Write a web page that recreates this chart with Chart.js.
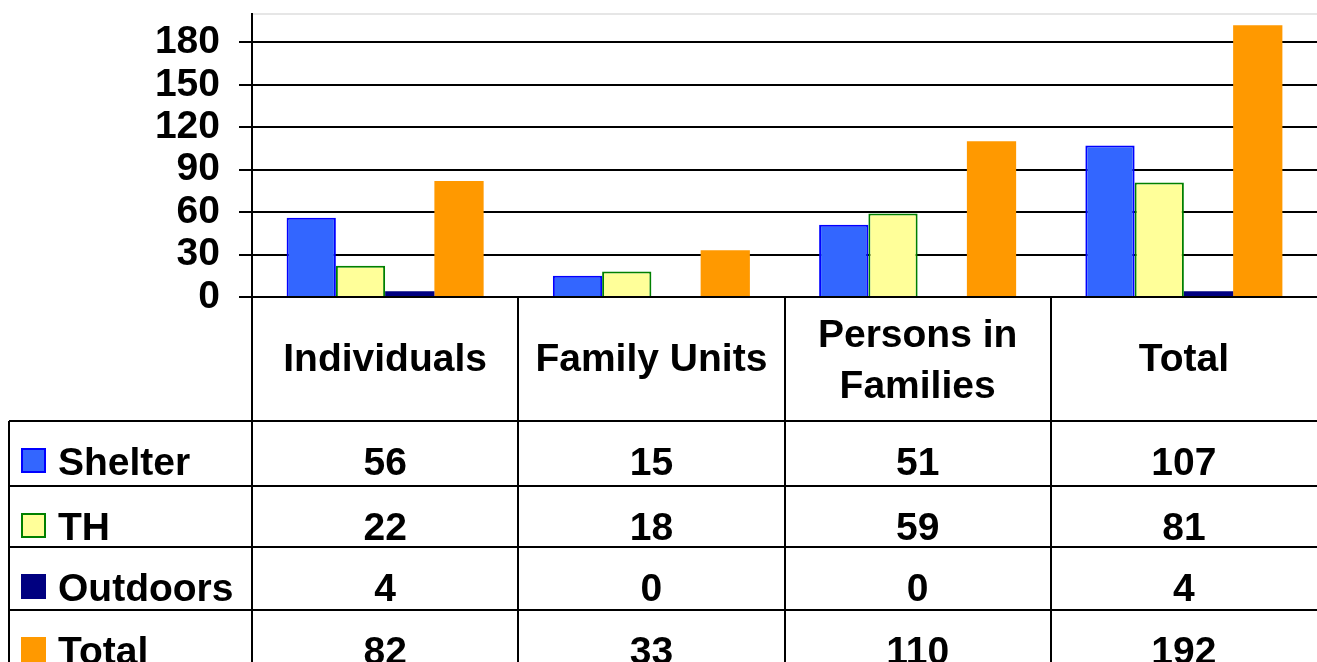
<!DOCTYPE html>
<html>
<head>
<meta charset="utf-8">
<script src="https://cdn.jsdelivr.net/npm/chart.js@4/dist/chart.umd.min.js"></script>
<style>
  body { margin: 0; background: #fff; }
  canvas { display: block; }
</style>
</head>
<body>
<canvas id="myChart" width="1317" height="662"></canvas>
<script>
// data
let categories = ['Individuals', 'Family Units', ['Persons in', 'Families'], 'Total']
let shelter = [56, 15, 51, 107]
let th = [22, 18, 59, 81]
let outdoors = [4, 0, 0, 4]
let total = [82, 33, 110, 192]
let yTicks = [0, 30, 60, 90, 120, 150, 180]
let seriesNames = ['Shelter', 'TH', 'Outdoors', 'Total']

let font = 'bold 39px "Liberation Sans", Arial, sans-serif'

// table under the plot
let tablePlugin = {
  id: 'table',
  afterDraw: function (chart) {
    let ctx = chart.ctx
    let area = chart.chartArea
    let x = chart.scales.x
    let w = chart.width
    let rowTops = [421, 486, 547, 610]
    let tableLeft = 9
    let step = x.getPixelForValue(1) - x.getPixelForValue(0)

    ctx.save()
    // light frame line on top of plot
    ctx.strokeStyle = '#e6e6e6'
    ctx.lineWidth = 2
    ctx.beginPath()
    ctx.moveTo(area.left + 1, area.top)
    ctx.lineTo(area.right, area.top)
    ctx.stroke()

    ctx.strokeStyle = '#000'
    ctx.lineWidth = 2
    ctx.beginPath()
    rowTops.forEach(y => {
      ctx.moveTo(tableLeft, y)
      ctx.lineTo(w, y)
    })
    ctx.moveTo(tableLeft, rowTops[0])
    ctx.lineTo(tableLeft, chart.height)
    for (let i = 0; i < categories.length; i++) {
      let px = Math.round(x.getPixelForValue(0) - step / 2 + i * step)
      ctx.moveTo(px, area.bottom)
      ctx.lineTo(px, chart.height)
    }
    ctx.stroke()

    ctx.fillStyle = '#000'
    ctx.font = font
    ctx.textAlign = 'center'
    ctx.textBaseline = 'alphabetic'
    categories.forEach((c, i) => {
      let cx = x.getPixelForValue(i)
      if (Array.isArray(c)) {
        ctx.fillText(c[0], cx, 347)
        ctx.fillText(c[1], cx, 398)
      } else {
        ctx.fillText(c, cx, 371)
      }
    })

    chart.data.datasets.forEach((ds, r) => {
      let base = rowTops[r] + 54
      // legend key
      ctx.fillStyle = ds.backgroundColor
      ctx.fillRect(21, base - 27, 25, 25)
      ctx.strokeStyle = ds.keyBorder
      ctx.lineWidth = 2
      ctx.strokeRect(22, base - 26, 23, 23)
      ctx.fillStyle = '#000'
      ctx.textAlign = 'left'
      ctx.fillText(ds.label, 58, base)
      ctx.textAlign = 'center'
      ds.data.forEach((v, i) => {
        ctx.fillText(String(v), x.getPixelForValue(i), base)
      })
    })
    ctx.restore()
  }
}

var ctx = document.getElementById('myChart').getContext('2d')
var chart = new Chart(ctx, {
  type: 'bar',
  data: {
    labels: categories,
    datasets: [{
      label: seriesNames[0],
      data: shelter,
      backgroundColor: '#3366FF',
      borderColor: '#0000FF',
      keyBorder: '#0000FF',
      borderWidth: 2
    }, {
      label: seriesNames[1],
      data: th,
      backgroundColor: '#FFFF99',
      borderColor: '#008000',
      keyBorder: '#008000',
      borderWidth: 2
    }, {
      label: seriesNames[2],
      data: outdoors,
      backgroundColor: '#000080',
      keyBorder: '#000080',
      borderWidth: 0
    }, {
      label: seriesNames[3],
      data: total,
      backgroundColor: '#FF9900',
      keyBorder: '#FF9900',
      borderWidth: 0
    }]
  },
  options: {
    responsive: false,
    animation: false,
    layout: { padding: { top: 14, bottom: 365, left: 0, right: 0 } },
    categoryPercentage: 0.74,
    barPercentage: 1,
    plugins: {
      legend: { display: false },
      tooltip: { enabled: false }
    },
    scales: {
      x: { display: false },
      y: {
        min: 0,
        max: 200,
        afterBuildTicks: function (scale) {
          scale.ticks = yTicks.map(v => ({ value: v }))
        },
        afterFit: function (scale) {
          scale.width = 252
          scale.paddingTop = 0
          scale.paddingBottom = 0
        },
        grid: { color: '#000', lineWidth: 2, tickLength: 13 },
        border: { display: true, color: '#000', width: 2 },
        ticks: {
          autoSkip: false,
          color: '#000',
          padding: 19,
          font: { family: '"Liberation Sans", Arial, sans-serif', size: 39, weight: 'bold' }
        }
      }
    }
  },
  plugins: [tablePlugin]
})
</script>
</body>
</html>
